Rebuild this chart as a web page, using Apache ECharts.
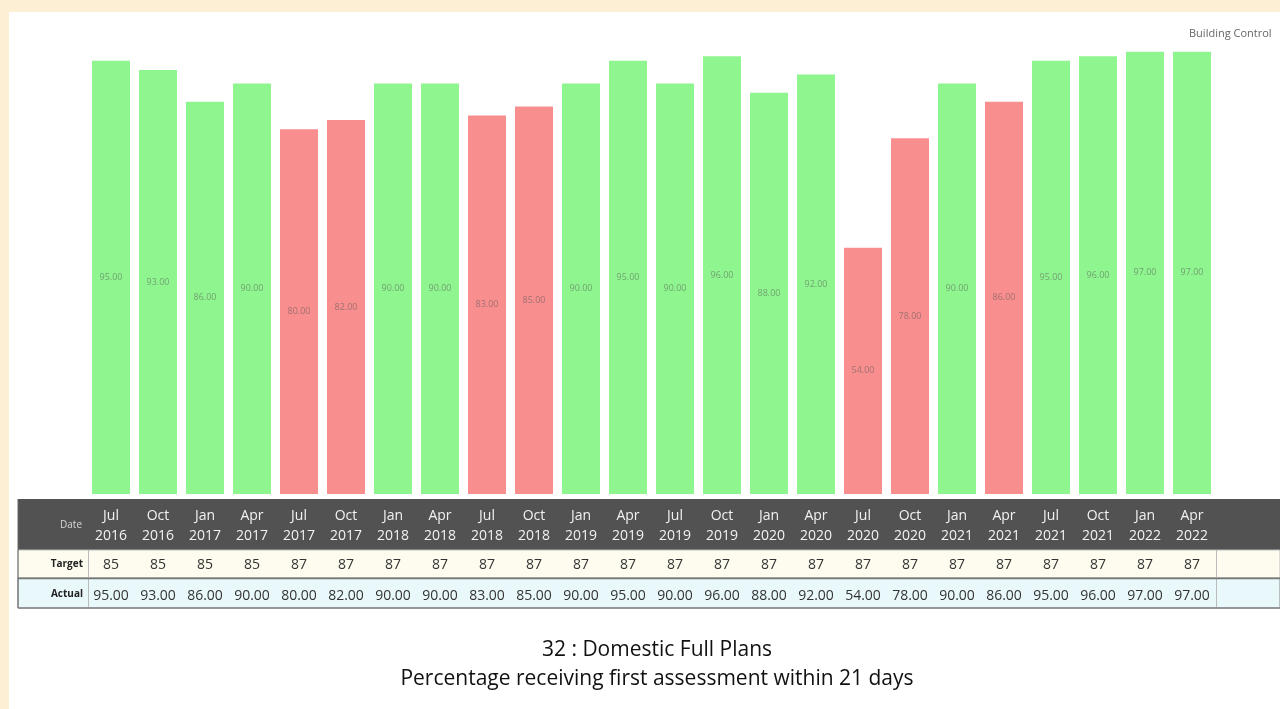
<!DOCTYPE html>
<html>
<head>
<meta charset="utf-8">
<script src="https://cdn.jsdelivr.net/npm/echarts@6/dist/echarts.min.js"></script>
<style>
html,body{margin:0;padding:0;background:#fdefd3;}
#c{width:1280px;height:709px;}
</style>
</head>
<body>
<div id="c"></div>
<script>
const months = ["Jul","Oct","Jan","Apr","Jul","Oct","Jan","Apr","Jul","Oct","Jan","Apr","Jul","Oct","Jan","Apr","Jul","Oct","Jan","Apr","Jul","Oct","Jan","Apr"];
const years = ["2016","2016","2017","2017","2017","2017","2018","2018","2018","2018","2019","2019","2019","2019","2020","2020","2020","2020","2021","2021","2021","2021","2022","2022"];
const targets = [85,85,85,85,87,87,87,87,87,87,87,87,87,87,87,87,87,87,87,87,87,87,87,87];
const actuals = [95,93,86,90,80,82,90,90,83,85,90,95,90,96,88,92,54,78,90,86,95,96,97,97];
const titleLine1 = "32 : Domestic Full Plans";
const titleLine2 = "Percentage receiving first assessment within 21 days";

const categories = months.map((m,i)=>m+"\n"+years[i]);
const GREEN = "#8ff68f", RED = "#f88e8e";
const FONT = "Open Sans";

const chart = echarts.init(document.getElementById('c'), null, {renderer:'canvas'});

const gridLeft = 87.5, gridRight = 1215.5, gridTop = 38, gridBottomY = 494;

const axisBase = {
  type:'category', data:categories, position:'bottom',
  axisLine:{show:false}, axisTick:{show:false}, splitLine:{show:false}
};

chart.setOption({
  backgroundColor:'#fdefd3',
  animation:false,
  grid:{left:gridLeft, width:gridRight-gridLeft, top:gridTop, bottom:709-gridBottomY, containLabel:false},
  title:[{
    text:titleLine1, left:652, top:635, textAlign:'center',
    textStyle:{fontFamily:FONT, fontSize:21, fontWeight:'normal', color:'#111'}
  },{
    text:titleLine2, left:652, top:664, textAlign:'center',
    textStyle:{fontFamily:FONT, fontSize:21, fontWeight:'normal', color:'#111'}
  }],
  graphic:[
    {type:'rect', z:-10, shape:{x:9,y:12,width:1271,height:697}, style:{fill:'#ffffff'}, silent:true},
    {type:'rect', z:-5, shape:{x:18,y:499,width:1262,height:51}, style:{fill:'#525252'}, silent:true},
    {type:'rect', z:-5, shape:{x:18,y:550,width:1262,height:28}, style:{fill:'#fefcef', stroke:'#bbbbbb', lineWidth:1}, silent:true},
    {type:'rect', z:-5, shape:{x:18,y:578,width:1262,height:30}, style:{fill:'#e9f8fb', stroke:'#888888', lineWidth:1}, silent:true},
    {type:'line', z:-4, shape:{x1:18,y1:499,x2:18,y2:608}, style:{stroke:'#666', lineWidth:1}, silent:true},
    {type:'line', z:-4, shape:{x1:88.5,y1:550,x2:88.5,y2:608}, style:{stroke:'#bbbbbb', lineWidth:1}, silent:true},
    {type:'line', z:-4, shape:{x1:1216.5,y1:550,x2:1216.5,y2:608}, style:{stroke:'#bbbbbb', lineWidth:1}, silent:true},
    {type:'line', z:-4, shape:{x1:18,y1:578.5,x2:1280,y2:578.5}, style:{stroke:'#777', lineWidth:1.5}, silent:true},
    {type:'line', z:-4, shape:{x1:18,y1:608,x2:1280,y2:608}, style:{stroke:'#888', lineWidth:1.5}, silent:true},
    {type:'text', z:5, style:{text:'Date', x:82, y:525, align:'right', verticalAlign:'middle', fill:'#d8d8d8', font:'10px "Open Sans"'}},
    {type:'text', z:5, style:{text:'Target', x:83, y:564, align:'right', verticalAlign:'middle', fill:'#222', font:'bold 10px "Open Sans"'}},
    {type:'text', z:5, style:{text:'Actual', x:83, y:594, align:'right', verticalAlign:'middle', fill:'#222', font:'bold 10px "Open Sans"'}},
    {type:'text', z:5, style:{text:'Building Control', x:1189, y:34, align:'left', verticalAlign:'middle', fill:'#666', font:'11px "Open Sans"'}}
  ],
  xAxis:[
    Object.assign({}, axisBase, {
      axisLabel:{interval:0, margin:12, color:'#f2f2f2', fontFamily:FONT, fontSize:14, lineHeight:20}
    }),
    Object.assign({}, axisBase, {
      axisLabel:{interval:0, margin:64, color:'#333', fontFamily:FONT, fontSize:14, lineHeight:15,
        formatter:(v,i)=>String(targets[i])}
    }),
    Object.assign({}, axisBase, {
      axisLabel:{interval:0, margin:95, color:'#333', fontFamily:FONT, fontSize:14, lineHeight:15,
        formatter:(v,i)=>actuals[i].toFixed(2)}
    })
  ],
  yAxis:{type:'value', min:0, max:100, show:false, splitLine:{show:false}},
  series:[{
    type:'bar', xAxisIndex:0, barWidth:38,
    data:actuals.map((v,i)=>({value:v, itemStyle:{color: v < targets[i] ? RED : GREEN}})),
    label:{show:true, position:'inside', color:'rgba(90,90,90,0.55)', fontFamily:FONT, fontSize:9,
      formatter:p=>Number(p.value).toFixed(2)}
  }]
});
</script>
</body>
</html>
